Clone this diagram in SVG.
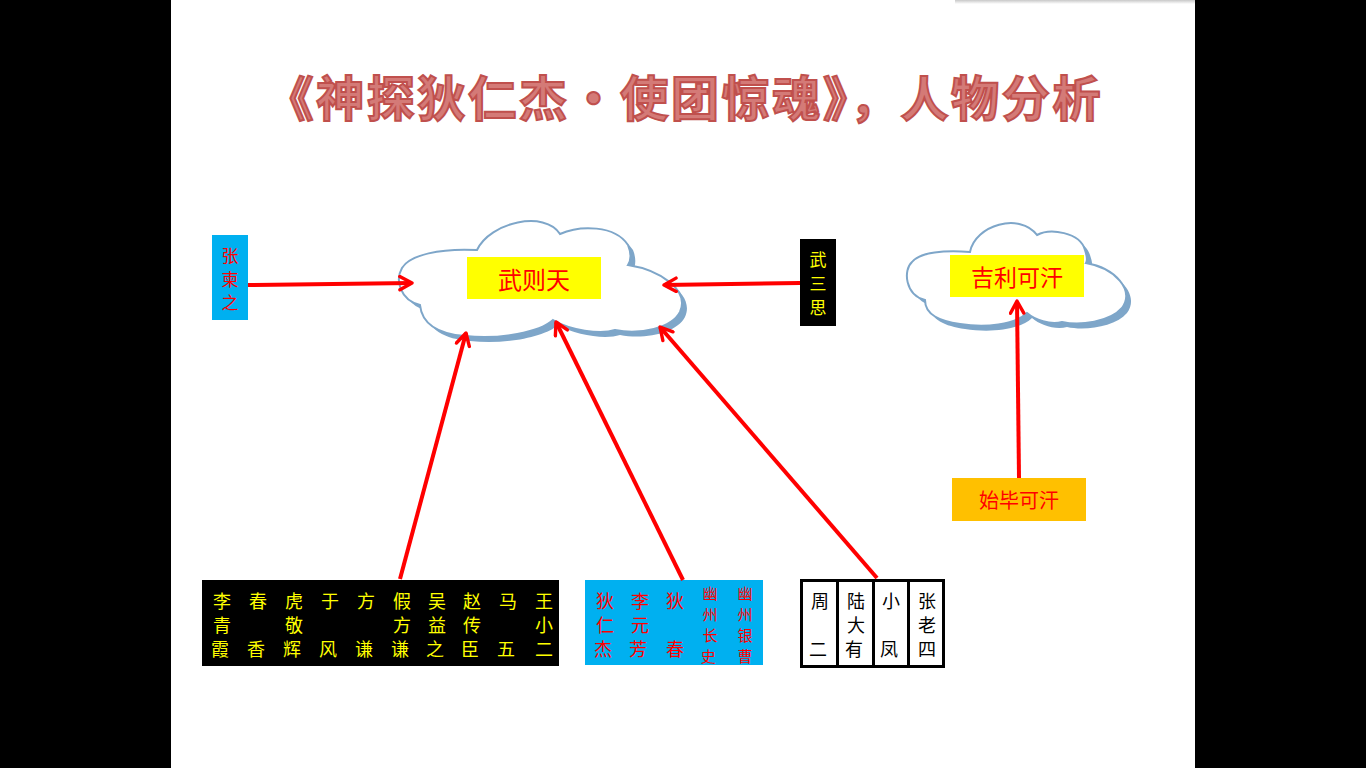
<svg xmlns="http://www.w3.org/2000/svg" width="1366" height="768" viewBox="0 0 1366 768">
<defs>
<style>
.t{font-family:"Noto Sans CJK SC","Noto Sans",sans-serif;text-anchor:middle;dominant-baseline:central}
.y{fill:#ffff00;font-size:18px}
.r{fill:#ff0000}
.k{fill:#000000;font-size:18px}
.cloudShadow{fill:#7ea6c9}
.cloud{fill:#ffffff;stroke:#7ea6c9;stroke-width:2}
.conn{stroke:#ff0000;stroke-width:4;fill:none;marker-end:url(#arr)}
</style>
<marker id="arr" viewBox="0 0 14 14" markerWidth="17" markerHeight="17" refX="12" refY="7" orient="auto" markerUnits="userSpaceOnUse">
<path d="M2,1.5 L12,7 L2,12.5" fill="none" stroke="#ff0000" stroke-width="2.8" stroke-linecap="round" stroke-linejoin="round"/>
</marker>
<linearGradient id="topsh" x1="0" y1="0" x2="0" y2="1">
<stop offset="0" stop-color="#c8c8c8"/>
<stop offset="1" stop-color="#ffffff"/>
</linearGradient>
</defs>
<rect x="0" y="0" width="1366" height="768" fill="#000000"/>
<rect x="171" y="0" width="1024" height="768" fill="#ffffff"/>
<rect x="955" y="0" width="240" height="4" fill="url(#topsh)"/>

<g id="title">
<text class="t" x="683" y="95" font-size="48" font-weight="bold" fill="#d47a77" stroke="#c0504d" stroke-width="2" textLength="835" lengthAdjust="spacing">《神探狄仁杰·使团惊魂》，人物分析</text>
</g>

<g id="node-wuzetian">
<path class="cloudShadow" transform="translate(5,5)" d="M420,305 C400,300 395,280 402,268 C410,255 440,248 477,250 C490,222 545,210 560,234 C580,225 615,225 628,245 C632,255 630,262 628,265 C660,270 690,290 680,312 C672,328 640,335 615,330 C600,335 570,330 553,320 C540,332 500,340 465,336 C440,334 422,325 420,305 Z"/>
<path class="cloud" d="M420,305 C400,300 395,280 402,268 C410,255 440,248 477,250 C490,222 545,210 560,234 C580,225 615,225 628,245 C632,255 630,262 628,265 C660,270 690,290 680,312 C672,328 640,335 615,330 C600,335 570,330 553,320 C540,332 500,340 465,336 C440,334 422,325 420,305 Z"/>
<rect x="467" y="257" width="134" height="42" fill="#ffff00"/>
<text class="t r" x="534" y="278" font-size="24">武则天</text>
</g>

<g id="node-jili">
<path class="cloudShadow" transform="translate(5,5)" d="M925,300 C905,295 903,270 912,262 C920,252 945,250 970,252 C975,225 1020,212 1037,235 C1050,228 1080,232 1085,250 C1087,256 1088,260 1086,263 C1115,268 1135,290 1122,308 C1110,322 1080,326 1062,322 C1050,325 1035,320 1027,313 C1015,325 985,328 960,324 C940,321 925,315 925,300 Z"/>
<path class="cloud" d="M925,300 C905,295 903,270 912,262 C920,252 945,250 970,252 C975,225 1020,212 1037,235 C1050,228 1080,232 1085,250 C1087,256 1088,260 1086,263 C1115,268 1135,290 1122,308 C1110,322 1080,326 1062,322 C1050,325 1035,320 1027,313 C1015,325 985,328 960,324 C940,321 925,315 925,300 Z"/>
<rect x="950" y="255" width="134" height="42" fill="#ffff00"/>
<text class="t r" x="1017" y="276" font-size="23">吉利可汗</text>
</g>

<g id="node-zhangjianzhi">
<rect x="212" y="235" width="36" height="85" fill="#00b0f0"/>
<text class="t r" font-size="17"><tspan x="230" y="254">张</tspan><tspan x="230" y="278">柬</tspan><tspan x="230" y="301">之</tspan></text>
</g>

<g id="node-wusansi">
<rect x="800" y="239" width="36" height="87" fill="#000000"/>
<text class="t" fill="#ffff00" font-size="17"><tspan x="818" y="258">武</tspan><tspan x="818" y="282">三</tspan><tspan x="818" y="306">思</tspan></text>
</g>

<g id="node-shibi">
<rect x="952" y="478" width="134" height="43" fill="#ffc000"/>
<text class="t r" x="1019" y="499" font-size="20">始毕可汗</text>
</g>

<g id="node-group1">
<rect x="202" y="580" width="357" height="86" fill="#000000"/>
<text class="t y">
<tspan x="222" y="600">李</tspan><tspan x="222" y="624">青</tspan><tspan x="222" y="648">霞</tspan>
<tspan x="258" y="600">春</tspan><tspan x="258" y="648">香</tspan>
<tspan x="294" y="600">虎</tspan><tspan x="294" y="624">敬</tspan><tspan x="294" y="648">辉</tspan>
<tspan x="330" y="600">于</tspan><tspan x="330" y="648">风</tspan>
<tspan x="366" y="600">方</tspan><tspan x="366" y="648">谦</tspan>
<tspan x="402" y="600">假</tspan><tspan x="402" y="624">方</tspan><tspan x="402" y="648">谦</tspan>
<tspan x="437" y="600">吴</tspan><tspan x="437" y="624">益</tspan><tspan x="437" y="648">之</tspan>
<tspan x="472" y="600">赵</tspan><tspan x="472" y="624">传</tspan><tspan x="472" y="648">臣</tspan>
<tspan x="508" y="600">马</tspan><tspan x="508" y="648">五</tspan>
<tspan x="544" y="600">王</tspan><tspan x="544" y="624">小</tspan><tspan x="544" y="648">二</tspan>
</text>
</g>

<g id="node-group2">
<rect x="585" y="580" width="178" height="85" fill="#00b0f0"/>
<text class="t r" font-size="18">
<tspan x="605" y="600">狄</tspan><tspan x="605" y="624">仁</tspan><tspan x="605" y="648">杰</tspan>
<tspan x="640" y="600">李</tspan><tspan x="640" y="624">元</tspan><tspan x="640" y="648">芳</tspan>
<tspan x="675" y="600">狄</tspan><tspan x="675" y="648">春</tspan>
</text>
<text class="t r" font-size="15">
<tspan x="710" y="592">幽</tspan><tspan x="710" y="613">州</tspan><tspan x="710" y="634">长</tspan><tspan x="710" y="655">史</tspan>
<tspan x="745" y="592">幽</tspan><tspan x="745" y="613">州</tspan><tspan x="745" y="634">银</tspan><tspan x="745" y="655">曹</tspan>
</text>
</g>

<g id="node-group3">
<rect x="801.5" y="580.5" width="142" height="86" fill="#ffffff" stroke="#000000" stroke-width="3"/>
<line x1="837.5" y1="580" x2="837.5" y2="667" stroke="#000000" stroke-width="3"/>
<line x1="873.5" y1="580" x2="873.5" y2="667" stroke="#000000" stroke-width="3"/>
<line x1="908.5" y1="580" x2="908.5" y2="667" stroke="#000000" stroke-width="3"/>
<text class="t k">
<tspan x="820" y="600">周</tspan><tspan x="820" y="648">二</tspan>
<tspan x="856" y="600">陆</tspan><tspan x="856" y="624">大</tspan><tspan x="856" y="648">有</tspan>
<tspan x="891" y="600">小</tspan><tspan x="891" y="648">凤</tspan>
<tspan x="927" y="600">张</tspan><tspan x="927" y="624">老</tspan><tspan x="927" y="648">四</tspan>
</text>
</g>

<g id="connectors">
<line class="conn" x1="248" y1="285" x2="412" y2="283"/>
<line class="conn" x1="800" y1="283" x2="664" y2="285"/>
<line class="conn" x1="1019" y1="478" x2="1017" y2="301"/>
<line class="conn" x1="400" y1="579" x2="466" y2="333"/>
<line class="conn" x1="683" y1="580" x2="556" y2="322"/>
<line class="conn" x1="877" y1="578" x2="660" y2="327"/>
</g>
</svg>
